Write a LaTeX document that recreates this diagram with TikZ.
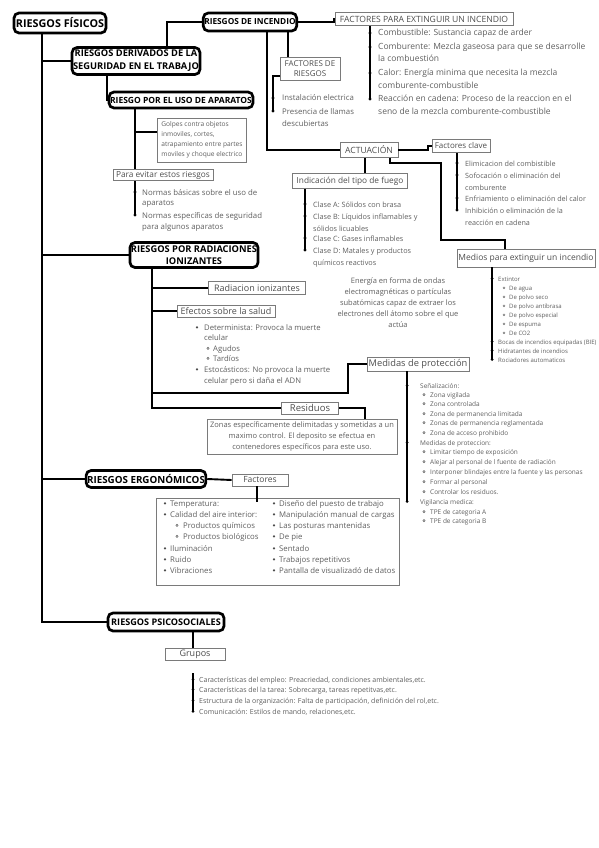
\documentclass[tikz,border=0pt]{standalone}
\usepackage{fontspec}
\setmainfont{Open Sans}
\usepackage{tikz}

\definecolor{boxgray}{HTML}{7A7A7A}
\definecolor{labgray}{HTML}{4D4D4D}
\definecolor{txtgray}{HTML}{5E5E5E}

\newcommand{\fsz}[2]{\fontsize{#1}{#2}\selectfont}

\tikzset{
    head/.style={draw, line width=2.7pt, rounded corners=5pt, align=center, inner sep=1pt},
    tag/.style={draw=boxgray, line width=0.7pt, text=labgray, inner sep=1pt, align=center},
    link/.style={line width=1.9pt},
    trunk/.style={line width=2.6pt},
    rule/.style={draw=black, line width=1.5pt},
    itm/.style={anchor=base west, inner sep=0pt, text=txtgray},
}

\begin{document}
\begin{tikzpicture}[x=1pt, y=-1pt]
        \path[use as bounding box] (0,0) rectangle (599,848);
        % 主题框
        \node[head, font=\bfseries\fsz{10.8}{12}, minimum width=92, minimum height=20] (fis) at (60,23) {RIESGOS FÍSICOS};
        \node[head, font=\bfseries\fsz{9.3}{13}, minimum width=125, minimum height=27] (der) at (136,61) {RIESGOS DERIVADOS DE LA\\SEGURIDAD EN EL TRABAJO};
        \node[head, font=\bfseries\fsz{8.3}{10}, minimum width=93, minimum height=18] (inc) at (250,22) {RIESGOS DE INCENDIO};
        \node[head, font=\bfseries\fsz{8.5}{10}, minimum width=144, minimum height=16] (apa) at (181,100) {RIESGO POR EL USO DE APARATOS};
        \node[head, font=\bfseries\fsz{9.3}{12}, minimum width=126, minimum height=25] (rad) at (194,255) {RIESGOS POR RADIACIONES\\IONIZANTES};
        \node[head, font=\bfseries\fsz{9.8}{11}, minimum width=115, minimum height=17] (erg) at (146,479) {RIESGOS ERGONÓMICOS};
        \node[head, font=\bfseries\fsz{9.1}{11}, minimum width=116, minimum height=18] (psi) at (166,622) {RIESGOS PSICOSOCIALES};

        % 细框
        \node[tag, font=\fsz{8.6}{10}, minimum width=178, minimum height=13] (fpe) at (424,19) {FACTORES PARA EXTINGUIR UN INCENDIO};
        \node[tag, font=\fsz{8}{10}, minimum width=60, minimum height=23] (fri) at (310,69) {FACTORES DE\\RIESGOS};
        \node[tag, font=\fsz{8.6}{10}, minimum width=58, minimum height=15] (act) at (369,150) {ACTUACIÓN};
        \node[tag, font=\fsz{8}{10}, minimum width=58, minimum height=13] (fcl) at (461,146) {Factores clave};
        \node[tag, font=\fsz{8.3}{10}, minimum width=115, minimum height=15] (ind) at (350,181) {Indicación del tipo de fuego};
        \node[tag, font=\fsz{8.5}{10}, minimum width=138, minimum height=18] (med) at (526,258) {Medios para extinguir un incendio};
        \node[tag, align=left, text=txtgray, font=\fsz{6.6}{10}, minimum width=89, minimum height=44] (gol) at (202,140) {Golpes contra objetos\\inmoviles, cortes,\\atrapamiento entre partes\\moviles y choque electrico};
        \node[tag, font=\fsz{8.3}{10}, minimum width=100, minimum height=11] (pev) at (163,175) {Para evitar estos riesgos};
        \node[tag, font=\fsz{9}{10}, minimum width=97, minimum height=13] (rio) at (257,288) {Radiacion ionizantes};
        \node[tag, font=\fsz{9}{10}, minimum width=98, minimum height=12] (efe) at (226,311) {Efectos sobre la salud};
        \node[tag, font=\fsz{9.3}{10}, minimum width=102, minimum height=14] (mpr) at (418,364) {Medidas de protección};
        \node[tag, font=\fsz{9.5}{10}, minimum width=57, minimum height=12] (res) at (310,408) {Residuos};
        \node[tag, text=txtgray, font=\fsz{7.5}{11}, minimum width=190, minimum height=35] (zon) at (302,437) {Zonas específicamente delimitadas y sometidas a un\\maximo control. El deposito se efectua en\\contenedores específicos para este uso.};
        \node[tag, font=\fsz{8.5}{10}, minimum width=56, minimum height=12] (fac) at (260,480) {Factores};
        \node[tag, minimum width=243, minimum height=87] (ergbox) at (277.5,541.5) {};
        \node[tag, font=\fsz{9}{10}, minimum width=60, minimum height=12] (gru) at (195,654) {Grupos};
        \node[align=center, text=txtgray, font=\fsz{7.5}{11}] (ene) at (398,303) {Energía en forma de ondas\\electromagnéticas o partículas\\subatómicas capaz de extraer los\\electrones dell átomo sobre el que\\actúa};

        % 主干与连线
        \coordinate (tr) at ([xshift=-18pt]fis.south);
        \draw[trunk] (tr) |- (psi.west);
        \draw[trunk] (der.west) -- (der.west -| tr);
        \draw[trunk] (rad.west) -- (rad.west -| tr);
        \draw[trunk] (erg.west) -- (erg.west -| tr);
        \draw[link] ([xshift=31pt]der.north) |- (inc.west);
        \draw[link] ([xshift=-29pt]der.south) |- (apa.west);
        \draw[link] (inc.east) -- ++(36,0) |- (fpe.west);
        \draw[link] ([xshift=38pt]inc.south) -- ([xshift=38pt]inc.south |- fri.north);
        \draw[link] ([xshift=17pt]inc.south) |- (act.west);
        \draw[link] (act.east) -- ++(30,0) |- (fcl.west);
        \draw[link] ([xshift=-4pt]act.south) -- ([xshift=-4pt]act.south |- ind.north);
        \draw[link] ([xshift=21pt]act.south) -- ++(0,5) -| ++(51,77) -| ([xshift=-21pt]med.north);
        \draw[link] ([xshift=-46pt]apa.south) -- ([xshift=-46pt]apa.south |- pev.north);
        \draw[link] ([yshift=8pt]gol.west) -- ++(-23,0);
        \coordinate (rv) at ([xshift=-42pt]rad.south);
        \draw[link] (rv) |- (res.west);
        \draw[link] (rv |- rio.west) -- (rio.west);
        \draw[link] (rv |- efe.west) -- (efe.west);
        \draw[link] (mpr.west) -- ++(-19,0) -- ++(0,29) coordinate (m2) -- (m2 -| rv);
        \draw[link] (res.east) -| ([xshift=63pt]zon.north);
        \draw[link] (erg.east) -- (fac.west);
        \draw[link] ([xshift=-3pt]fac.south) -- ++(0,16);
        \draw[link] ([xshift=27pt]psi.south) -- ([xshift=27pt]psi.south |- gru.north);

        % 列表竖线
        \draw[rule] (370,26) -- (370,99);
        \draw[rule] (457,153) -- (457,210);
        \draw[rule] (305,189) -- (305,250);
        \draw[rule] (492,267) -- (492,360);
        \draw[rule] (135,181) -- (135,215);
        \draw[rule] (407,371) -- (407,502);
        \draw[rule] (193,673) -- (193,712);
        \draw[rule] (280,76) -- (273,76) -- (273,111);

        % 灭火因素
        \foreach \y/\m/\txt in {36/1/{Combustible: Sustancia capaz de arder},
                50/1/{Comburente: Mezcla gaseosa para que se desarrolle},
                62/0/{la combuestión},
                76/1/{Calor: Energía minima que necesita la mezcla},
                89/0/{comburente-combustible},
                102/1/{Reacción en cadena: Proceso de la reaccion en el},
                115/0/{seno de la mezcla comburente-combustible}}{
            \node[itm, font=\fsz{8.5}{10}] (fpe-\y) at (378,\y) {\txt};
            \ifnum\m=1 \fill (370,\y-3) circle (1.6pt); \fi
        }

        % 风险因素
        \foreach \y/\m/\txt in {101/1/{Instalación electrica}, 114/1/{Presencia de llamas}, 127/0/{descubiertas}}{
            \node[itm, font=\fsz{7.8}{9}] (fri-\y) at (282,\y) {\txt};
            \ifnum\m=1 \fill (273,\y-3) circle (1.6pt); \fi
        }

        % 关键因素
        \foreach \y/\m/\txt in {166/1/{Elimicacion del combistible},
                178/1/{Sofocación o eliminación del}, 190/0/{comburente},
                201/1/{Enfriamiento o eliminación del calor},
                213/1/{Inhibición o eliminación de la}, 225/0/{reacción en cadena}}{
            \node[itm, font=\fsz{7.2}{9}] (fcl-\y) at (465,\y) {\txt};
            \ifnum\m=1 \fill (457,\y-3) circle (1.6pt); \fi
        }

        % 火的类型
        \foreach \y/\m/\txt in {207/1/{Clase A: Sólidos con brasa},
                219/1/{Clase B: Líquidos inflamables y}, 231/0/{sólidos licuables},
                241/1/{Clase C: Gases inflamables},
                253/1/{Clase D: Matales y productos}, 265/0/{químicos reactivos}}{
            \node[itm, font=\fsz{7.3}{9}] (ind-\y) at (313,\y) {\txt};
            \ifnum\m=1 \fill (305,\y-3) circle (1.6pt); \fi
        }

        % 灭火手段
        \foreach \y/\m/\txt in {281/1/{Extintor}, 290/2/{De agua}, 299/2/{De polvo seco},
                308/2/{De polvo antibrasa}, 317/2/{De polvo especial}, 326/2/{De espuma},
                335/2/{De CO2}, 344/1/{Bocas de incendios equipadas (BIE)},
                353/1/{Hidratantes de incendios}, 362/1/{Rociadores automaticos}}{
            \ifnum\m=2
                \node[itm, font=\fsz{6}{8}] (med-\y) at (509,\y) {\txt};
                \draw[txtgray, line width=0.4pt] (504,\y-2.2) circle (1pt);
            \else
                \node[itm, font=\fsz{6}{8}] (med-\y) at (498,\y) {\txt};
                \fill (492,\y-2.5) circle (1.5pt);
            \fi
        }

        % 预防
        \foreach \y/\m/\txt in {195/1/{Normas básicas sobre el uso de}, 205/0/{aparatos},
                218/1/{Normas específicas de seguridad}, 229/0/{para algunos aparatos}}{
            \node[itm, font=\fsz{7.8}{9}] (pev-\y) at (142,\y) {\txt};
            \ifnum\m=1 \fill (135,\y-3) circle (1.6pt); \fi
        }

        % 健康影响
        \foreach \y/\m/\txt in {330/1/{Determinista: Provoca la muerte}, 340/0/{celular},
                351/2/{Agudos}, 361/2/{Tardíos},
                372/1/{Estocásticos: No provoca la muerte}, 383/0/{celular pero si daña el ADN}}{
            \ifnum\m=2
                \node[itm, font=\fsz{7.7}{9}] (efe-\y) at (213,\y) {\txt};
                \draw[txtgray, line width=0.5pt] (208,\y-2.6) circle (1.1pt);
            \else
                \node[itm, font=\fsz{7.7}{9}] (efe-\y) at (204,\y) {\txt};
            \fi
            \ifnum\m=1 \fill[labgray] (197,\y-2.6) circle (1.2pt); \fi
        }

        % 防护措施
        \foreach \y/\m/\txt in {388/1/{Señalización:}, 397/2/{Zona vigilada}, 406/2/{Zona controlada},
                416/2/{Zona de permanencia limitada}, 425/2/{Zonas de permanencia reglamentada},
                435/2/{Zona de acceso prohibido}, 445/1/{Medidas de proteccion:},
                454/2/{Limitar tiempo de exposición}, 464/2/{Alejar al personal de l fuente de radiación},
                474/2/{Interponer blindajes entre la fuente  y las personas}, 484/2/{Formar al personal},
                494/2/{Controlar los residuos.}, 504/1/{Vigilancia medica:},
                514/2/{TPE de categoria A}, 523/2/{TPE de categoria B}}{
            \ifnum\m=2
                \node[itm, font=\fsz{6.5}{8}] (mpr-\y) at (430,\y) {\txt};
                \draw[txtgray, line width=0.5pt] (424,\y-2.4) circle (1.1pt);
            \else
                \node[itm, font=\fsz{6.5}{8}] (mpr-\y) at (420,\y) {\txt};
                \fill (407,\y-2.5) circle (1.5pt);
            \fi
        }

        % 人体工学因素
        \foreach \y/\m/\txt in {506/1/{Temperatura:}, 517/1/{Calidad del aire interior:},
                528/2/{Productos químicos}, 539/2/{Productos biológicos},
                551/1/{Iluminación}, 562/1/{Ruido}, 573/1/{Vibraciones}}{
            \ifnum\m=2
                \node[itm, font=\fsz{7.8}{9}] (erl-\y) at (183,\y) {\txt};
                \draw[txtgray, line width=0.5pt] (177,\y-2.6) circle (1.1pt);
            \else
                \node[itm, font=\fsz{7.8}{9}] (erl-\y) at (170,\y) {\txt};
                \fill[labgray] (165,\y-2.6) circle (1.2pt);
            \fi
        }
        \foreach \y/\txt in {506/{Diseño del puesto de trabajo}, 517/{Manipulación manual de cargas},
                528/{Las posturas mantenidas}, 539/{De pie}, 551/{Sentado},
                562/{Trabajos repetitivos}, 573/{Pantalla de visualizadó de datos}}{
            \node[itm, font=\fsz{7.8}{9}] (err-\y) at (279,\y) {\txt};
            \fill[labgray] (274,\y-2.6) circle (1.2pt);
        }

        % 群组
        \foreach \y/\txt in {682/{Características del empleo: Preacriedad, condiciones ambientales,etc.},
                692/{Características del la tarea: Sobrecarga, tareas repetitvas,etc.},
                703/{Estructura de la organización: Falta de participación, definición del rol,etc.},
                714/{Comunicación: Estilos de mando, relaciones,etc.}}{
            \node[itm, font=\fsz{7}{8}] (gru-\y) at (199,\y) {\txt};
            \fill (193,\y-2.6) circle (1.5pt);
        }
\end{tikzpicture}
\end{document}
